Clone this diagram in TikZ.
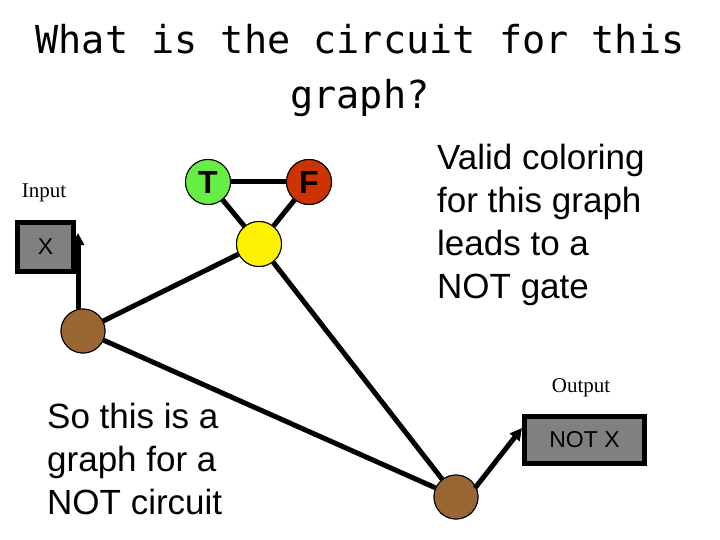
\documentclass[tikz,border=0pt]{standalone}
\usepackage{fontspec}
\setmainfont{Liberation Serif}
\setsansfont{Liberation Sans}
\newfontfamily\titlefont{DejaVu Sans Mono}
\usetikzlibrary{arrows.meta}
\begin{document}
\begin{tikzpicture}[x=1pt,y=-1pt,
  vtx/.style={circle,draw=black,line width=1pt,minimum size=45pt,inner sep=0pt,font=\sffamily\bfseries\fontsize{32}{32}\selectfont},
  brn/.style={circle,draw=black,line width=1pt,fill={rgb,255:red,153;green,102;blue,51},minimum size=44pt,inner sep=0pt},
  edge/.style={line width=5pt},
  box/.style={draw=black,line width=5pt,fill={rgb,255:red,128;green,128;blue,128},font=\sffamily\fontsize{23}{23}\selectfont,inner sep=0pt},
  txt/.style={font=\sffamily\fontsize{35}{43}\selectfont,align=left,anchor=north west,inner sep=0pt}]
\useasboundingbox[fill=white] (0,0) rectangle (720,540);
\node[font=\titlefont\fontsize{38.5}{55}\selectfont,align=center] (title) at (360,71) {What is the circuit for this\\graph?};
\node[vtx,fill={rgb,255:red,102;green,238;blue,68}] (T) at (208,182) {T};
\node[vtx,fill={rgb,255:red,204;green,51;blue,0}] (F) at (309,182) {F};
\node[vtx,fill=yellow] (Y) at (259,244) {};
\node[brn] (B1) at (83,331) {};
\node[brn] (B2) at (456,497) {};
\node[box,minimum width=56pt,minimum height=49pt] (X) at (45.5,247) {X};
\node[box,minimum width=120pt,minimum height=47pt] (NX) at (584.5,440) {NOT X};
\node[font=\fontsize{21}{21}\selectfont] (inp) at (44,193) {Input};
\node[font=\fontsize{21}{21}\selectfont] (outp) at (581,388) {Output};
\draw[edge] (T) -- (F);
\draw[edge] (T) -- (Y);
\draw[edge] (F) -- (Y);
\draw[edge] (Y) -- (B1);
\draw[edge] (Y) -- (B2);
\draw[edge] (B1) -- (B2);
\node[vtx,fill={rgb,255:red,102;green,238;blue,68}] at (208,182) {T};
\node[vtx,fill={rgb,255:red,204;green,51;blue,0}] at (309,182) {F};
\node[vtx,fill=yellow] at (259,244) {};
\node[brn] at (83,331) {};
\node[brn] at (456,497) {};
\coordinate (a1) at (78,309);
\coordinate (a2) at (78,233);
\draw[edge,-{Triangle[length=12pt,width=12pt]}] (a1) -- (a2);
\coordinate (b1) at (475,488);
\draw[edge,-{Triangle[length=12pt,width=12pt]}] (b1) -- (NX.west |- 0,428) ;
\node[txt] (valid) at (437,144) {Valid coloring\\for this graph\\leads to a\\NOT gate};
\node[txt] (so) at (47,403) {So this is a\\graph for a\\NOT circuit};
\end{tikzpicture}
\end{document}
